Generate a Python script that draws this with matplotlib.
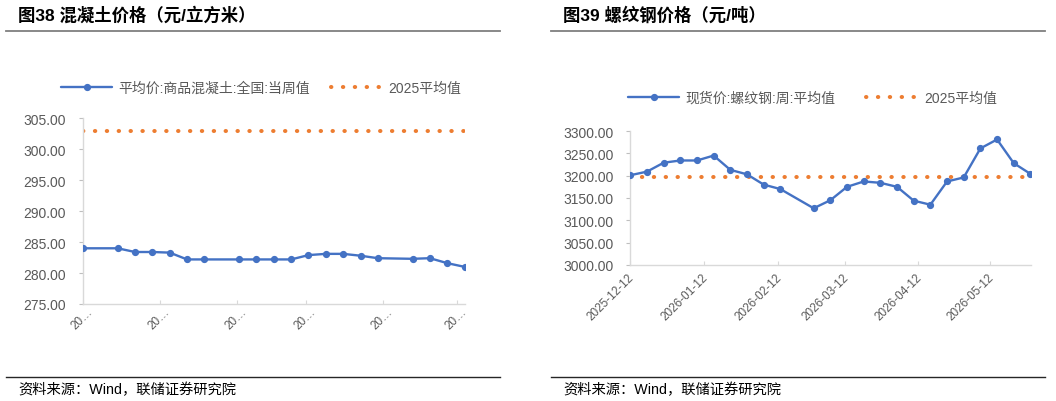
import numpy as np
import pandas as pd
import matplotlib
matplotlib.use('Agg')
import matplotlib.pyplot as plt
import matplotlib.dates as mdates
import matplotlib.transforms as mtransforms
from matplotlib.lines import Line2D

plt.rcParams['font.family'] = ['Liberation Sans', 'Noto Sans CJK SC', 'DejaVu Sans']
plt.rcParams['axes.unicode_minus'] = False

# 图38 混凝土
concrete_dates = ['2025-12-12', '2025-12-26', '2026-01-02', '2026-01-09', '2026-01-16',
                  '2026-01-23', '2026-01-30', '2026-02-13', '2026-02-20', '2026-02-27',
                  '2026-03-06', '2026-03-13', '2026-03-20', '2026-03-27', '2026-04-03',
                  '2026-04-10', '2026-04-24', '2026-05-01', '2026-05-08', '2026-05-15']
concrete_vals = [284.0, 284.0, 283.4, 283.4, 283.3, 282.2, 282.2, 282.2, 282.2, 282.2,
                 282.2, 282.9, 283.1, 283.1, 282.8, 282.4, 282.3, 282.4, 281.6, 281.0]
concrete_avg2025 = 303.0
concrete_ticks = [275, 280, 285, 290, 295, 300, 305]

# 图39 螺纹钢
rebar_dates = ['2025-12-12', '2025-12-19', '2025-12-26', '2026-01-02', '2026-01-09',
               '2026-01-16', '2026-01-23', '2026-01-30', '2026-02-06', '2026-02-13',
               '2026-02-27', '2026-03-06', '2026-03-13', '2026-03-20', '2026-03-27',
               '2026-04-03', '2026-04-10', '2026-04-17', '2026-04-24', '2026-05-01',
               '2026-05-08', '2026-05-15', '2026-05-22', '2026-05-29']
rebar_vals = [3201, 3209, 3229, 3234, 3234, 3245, 3213, 3203, 3180, 3170,
              3127, 3145, 3175, 3187, 3184, 3175, 3144, 3135, 3187, 3196,
              3261, 3281, 3228, 3204]
rebar_avg2025 = 3198.0
rebar_ticks = [3000, 3050, 3100, 3150, 3200, 3250, 3300]

BLUE = '#4472C4'
ORANGE = '#ED7D31'
GRAY_TXT = '#595959'
AX_GRAY = '#d9d9d9'

W, H = 1056, 402
fig = plt.figure(figsize=(W / 100, H / 100), dpi=100)


def px_rect(x0, x1, ytop, ybot):
    return [x0 / W, 1 - ybot / H, (x1 - x0) / W, (ybot - ytop) / H]


def draw_panel(rect, dates, vals, avg, yticks, ylim, xend, tick_fmt, series_name,
               leg_xy, colspace, lab_shift):
    ax = fig.add_axes(rect)
    d = pd.to_datetime(dates)
    ax.plot(d, vals, color=BLUE, lw=1.7, marker='o', ms=4.2, label=series_name,
            solid_capstyle='round', zorder=3)
    ax.plot(d, [avg] * len(d), color=ORANGE, lw=2.9, ls=(0, (0.1, 2.85)),
            dash_capstyle='round', label='2025平均值', zorder=2)
    ax.set_ylim(*ylim)
    ax.set_yticks(yticks)
    ax.yaxis.set_major_formatter(plt.FuncFormatter(lambda v, p: f'{v:.2f}'))
    ax.set_xlim(d[0], pd.Timestamp(xend))
    ax.xaxis.set_major_locator(mdates.MonthLocator(bymonthday=12))
    ax.xaxis.set_major_formatter(tick_fmt)
    for s in ['top', 'right']:
        ax.spines[s].set_visible(False)
    for s in ['left', 'bottom']:
        ax.spines[s].set_color(AX_GRAY)
        ax.spines[s].set_linewidth(1.0)
    ax.tick_params(axis='y', direction='out', length=3.2, width=0.8, color='#bfbfbf',
                   labelsize=10, labelcolor=GRAY_TXT, pad=9)
    ax.tick_params(axis='x', direction='in', length=3, width=0.8, color=AX_GRAY,
                   labelsize=8.5, labelcolor=GRAY_TXT, pad=6)
    shift = mtransforms.ScaledTranslation(lab_shift[0] / 100, lab_shift[1] / 100,
                                          fig.dpi_scale_trans)
    for lab in ax.get_xticklabels():
        lab.set_rotation(45)
        lab.set_ha('right')
        lab.set_va('center')
        lab.set_rotation_mode('anchor')
        lab.set_transform(lab.get_transform() + shift)
    ax.set_facecolor('none')
    fig.legend(*ax.get_legend_handles_labels(), loc='center left',
               bbox_to_anchor=(leg_xy[0] / W, 1 - leg_xy[1] / H),
               bbox_transform=fig.transFigure, ncol=2, frameon=False,
               borderpad=0, borderaxespad=0, handlelength=3.7, handletextpad=0.45,
               columnspacing=colspace, prop={'size': 10},
               labelcolor=GRAY_TXT)
    return ax


draw_panel(px_rect(83, 465, 119.3, 305), concrete_dates, concrete_vals, concrete_avg2025,
           concrete_ticks, (275, 305), '2026-05-15 04:00',
           plt.FuncFormatter(lambda v, p: '20\u2026'),
           '平均价:商品混凝土:全国:当周值', (61, 89), 1.5, (8, 3))

draw_panel(px_rect(630.3, 1030.7, 132, 266), rebar_dates, rebar_vals, rebar_avg2025,
           rebar_ticks, (3000, 3300), '2026-05-29 03:00',
           mdates.DateFormatter('%Y-%m-%d'),
           '现货价:螺纹钢:周:平均值', (628, 99), 2.2, (2, -2))

# 标题、分隔线与资料来源
titles = ['图38 混凝土价格（元/立方米）', '图39 螺纹钢价格（元/吨）']
sources = ['资料来源：Wind，联储证券研究院'] * 2
panel_x = [(6, 500), (551, 1045)]
text_x = [18, 563]
for (x0, x1), tx, title, src in zip(panel_x, text_x, titles, sources):
    fig.text(tx / W, 1 - 14.5 / H, title, fontsize=12.5, fontweight='bold',
             color='black', ha='left', va='center')
    fig.add_artist(Line2D([x0 / W, x1 / W], [1 - 31.5 / H] * 2, color='#7f7f7f',
                          lw=1.3, transform=fig.transFigure))
    fig.add_artist(Line2D([x0 / W, x1 / W], [1 - 377.7 / H] * 2, color='#262626',
                          lw=1.0, transform=fig.transFigure))
    fig.text(tx / W, 1 - 389.5 / H, src, fontsize=10.3, color='black',
             ha='left', va='center')

fig.savefig('out.png', dpi=100)
